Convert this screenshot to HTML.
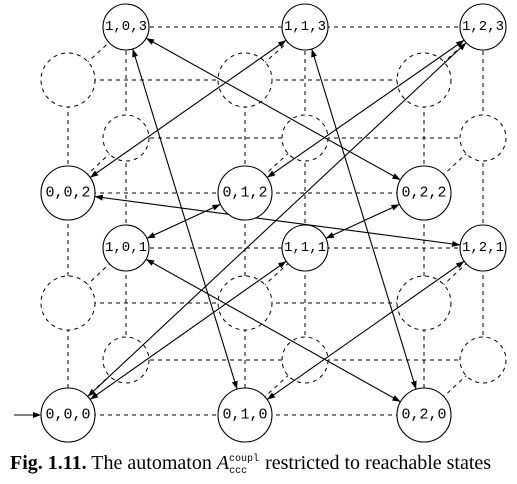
<!DOCTYPE html>
<html><head><meta charset="utf-8"><style>
html,body{margin:0;padding:0;background:#fff}
svg{display:block}
.n{font-family:"Liberation Mono",monospace;font-size:15px;text-anchor:middle;dominant-baseline:central;fill:#000}
</style></head><body>
<svg width="517" height="484" viewBox="0 0 517 484" xmlns="http://www.w3.org/2000/svg">
<defs>
<marker id="eF" markerUnits="userSpaceOnUse" viewBox="-40 -4 40 8" markerWidth="40" markerHeight="8" refX="0" refY="0" orient="auto-start-reverse" overflow="visible"><path d="M-27,0 L-35,-3 L-35,3 z" fill="#000"/></marker>
<marker id="eB" markerUnits="userSpaceOnUse" viewBox="-40 -4 40 8" markerWidth="40" markerHeight="8" refX="0" refY="0" orient="auto-start-reverse" overflow="visible"><path d="M-23,0 L-31,-3 L-31,3 z" fill="#000"/></marker>
</defs>
<g stroke="#000" stroke-width="1" stroke-dasharray="4,4" fill="none">
<path d="M68 80H424M68 193H424M68 303H424M68 415H424"/>
<path d="M126 27H483M126 138H483M126 248H483M126 360H483"/>
<path d="M68 80V415M245 80V415M424 80V415"/>
<path d="M126 27V360M305 27V360M483 27V360"/>
<path d="M68 80L126 27M245 80L305 27M424 80L483 27M68 193L126 138M245 193L305 138M424 193L483 138M68 303L126 248M245 303L305 248M424 303L483 248M68 415L126 360M245 415L305 360M424 415L483 360"/>
</g>
<g stroke="#000" stroke-width="1" stroke-dasharray="4,4" fill="#fff">
<circle cx="68" cy="80" r="27"/><circle cx="245" cy="80" r="27"/><circle cx="424" cy="80" r="27"/>
<circle cx="126" cy="138" r="23"/><circle cx="305" cy="138" r="23"/><circle cx="483" cy="138" r="23"/>
<circle cx="68" cy="303" r="27"/><circle cx="245" cy="303" r="27"/><circle cx="424" cy="303" r="27"/>
<circle cx="126" cy="360" r="23"/><circle cx="305" cy="360" r="23"/><circle cx="483" cy="360" r="23"/>
</g>
<g stroke="#000" stroke-width="1.1" fill="none">
<line x1="126" y1="27" x2="424" y2="193" marker-start="url(#eB)" marker-end="url(#eF)"/>
<line x1="126" y1="27" x2="245" y2="415" marker-start="url(#eB)" marker-end="url(#eF)"/>
<line x1="305" y1="27" x2="68" y2="193" marker-start="url(#eB)" marker-end="url(#eF)"/>
<line x1="305" y1="27" x2="424" y2="415" marker-start="url(#eB)" marker-end="url(#eF)"/>
<line x1="483" y1="27" x2="245" y2="193" marker-start="url(#eB)" marker-end="url(#eF)"/>
<line x1="483" y1="27" x2="68" y2="415" marker-start="url(#eB)" marker-end="url(#eF)"/>
<line x1="483" y1="248" x2="68" y2="193" marker-start="url(#eB)" marker-end="url(#eF)"/>
<line x1="126" y1="248" x2="245" y2="193" marker-start="url(#eB)" marker-end="url(#eF)"/>
<line x1="305" y1="248" x2="424" y2="193" marker-start="url(#eB)" marker-end="url(#eF)"/>
<line x1="126" y1="248" x2="424" y2="415" marker-start="url(#eB)" marker-end="url(#eF)"/>
<line x1="305" y1="248" x2="68" y2="415" marker-start="url(#eB)" marker-end="url(#eF)"/>
<line x1="483" y1="248" x2="245" y2="415" marker-start="url(#eB)" marker-end="url(#eF)"/>
<line x1="14" y1="415" x2="33" y2="415"/>
</g>
<path d="M41,415 L33,412 L33,418 z" fill="#000"/>
<g stroke="#000" stroke-width="1.1" fill="#fff">
<circle cx="126" cy="27" r="23"/><circle cx="305" cy="27" r="23"/><circle cx="483" cy="27" r="23"/>
<circle cx="68" cy="193" r="27"/><circle cx="245" cy="193" r="27"/><circle cx="424" cy="193" r="27"/>
<circle cx="126" cy="248" r="23"/><circle cx="305" cy="248" r="23"/><circle cx="483" cy="248" r="23"/>
<circle cx="68" cy="415" r="27"/><circle cx="245" cy="415" r="27"/><circle cx="424" cy="415" r="27"/>
</g>
<g class="n">
<text x="126" y="27" font-size="14">1,0,3</text><text x="305" y="27" font-size="14">1,1,3</text><text x="483" y="27" font-size="14">1,2,3</text>
<text x="68" y="193">0,0,2</text><text x="245" y="193">0,1,2</text><text x="424" y="193">0,2,2</text>
<text x="126" y="248" font-size="14">1,0,1</text><text x="305" y="248" font-size="14">1,1,1</text><text x="483" y="248" font-size="14">1,2,1</text>
<text x="68" y="415">0,0,0</text><text x="245" y="415">0,1,0</text><text x="424" y="415">0,2,0</text>
</g>
<text x="10" y="469" font-family="Liberation Serif, serif" font-size="20" fill="#000"><tspan font-weight="bold">Fig. 1.11.</tspan> The automaton <tspan font-style="italic">A</tspan><tspan font-family="Liberation Mono, monospace" font-size="10" dy="-8">coupl</tspan><tspan font-family="Liberation Mono, monospace" font-size="10" dx="-30" dy="12">ccc</tspan><tspan dx="13" dy="-4"> restricted to reachable states</tspan></text>
</svg>
</body></html>
